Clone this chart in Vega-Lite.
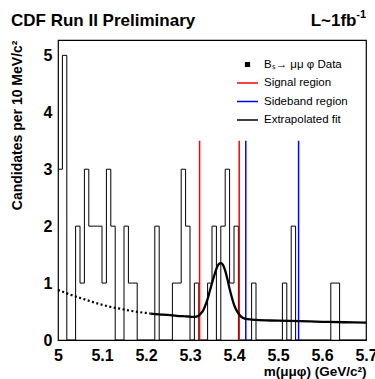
{
  "$schema": "https://vega.github.io/schema/vega-lite/v6.json",
  "width": 308,
  "height": 300,
  "autosize": {"type": "none"},
  "padding": {"left": 58, "top": 40, "right": 9, "bottom": 39},
  "background": "white",
  "config": {
    "view": {"stroke": "black", "strokeWidth": 1.2},
    "axis": {"grid": false, "domain": false, "labelFont": "Liberation Sans", "labelFontSize": 16, "labelFontWeight": "bold", "labelColor": "black", "titleFont": "Liberation Sans", "titleFontWeight": "bold", "titleColor": "black", "tickColor": "black", "tickSize": 0, "tickWidth": 1, "labelOverlap": false, "labelBound": false, "labelFlush": false}
  },
  "datasets": {
    "hist": [
      {"m": 5.00, "n": 3}, {"m": 5.01, "n": 5}, {"m": 5.02, "n": 0}, {"m": 5.03, "n": 0}, {"m": 5.04, "n": 2},
      {"m": 5.05, "n": 1}, {"m": 5.06, "n": 3}, {"m": 5.07, "n": 2}, {"m": 5.08, "n": 2}, {"m": 5.09, "n": 2},
      {"m": 5.10, "n": 1}, {"m": 5.11, "n": 3}, {"m": 5.12, "n": 2}, {"m": 5.13, "n": 0}, {"m": 5.14, "n": 0},
      {"m": 5.15, "n": 2}, {"m": 5.16, "n": 1}, {"m": 5.17, "n": 1}, {"m": 5.18, "n": 0}, {"m": 5.19, "n": 0},
      {"m": 5.20, "n": 0}, {"m": 5.21, "n": 0}, {"m": 5.22, "n": 2}, {"m": 5.23, "n": 0}, {"m": 5.24, "n": 0},
      {"m": 5.25, "n": 0}, {"m": 5.26, "n": 1}, {"m": 5.27, "n": 1}, {"m": 5.28, "n": 3}, {"m": 5.29, "n": 2},
      {"m": 5.30, "n": 0}, {"m": 5.31, "n": 1}, {"m": 5.32, "n": 0}, {"m": 5.33, "n": 0}, {"m": 5.34, "n": 1},
      {"m": 5.35, "n": 2}, {"m": 5.36, "n": 0}, {"m": 5.37, "n": 2}, {"m": 5.38, "n": 3}, {"m": 5.39, "n": 1},
      {"m": 5.40, "n": 2}, {"m": 5.41, "n": 0}, {"m": 5.42, "n": 0}, {"m": 5.43, "n": 0}, {"m": 5.44, "n": 1},
      {"m": 5.45, "n": 0}, {"m": 5.46, "n": 0}, {"m": 5.47, "n": 0}, {"m": 5.48, "n": 0}, {"m": 5.49, "n": 0},
      {"m": 5.50, "n": 0}, {"m": 5.51, "n": 1}, {"m": 5.52, "n": 0}, {"m": 5.53, "n": 2}, {"m": 5.54, "n": 0},
      {"m": 5.55, "n": 0}, {"m": 5.56, "n": 0}, {"m": 5.57, "n": 0}, {"m": 5.58, "n": 0}, {"m": 5.59, "n": 0},
      {"m": 5.60, "n": 0}, {"m": 5.61, "n": 0}, {"m": 5.62, "n": 1}, {"m": 5.63, "n": 1}, {"m": 5.64, "n": 0},
      {"m": 5.65, "n": 0}, {"m": 5.66, "n": 0}, {"m": 5.67, "n": 0}, {"m": 5.68, "n": 0}, {"m": 5.69, "n": 0},
      {"m": 5.70, "n": 0}
    ],
    "regions": [
      {"m": 5.3218, "region": "Signal region"},
      {"m": 5.4118, "region": "Signal region"},
      {"m": 5.4268, "region": "Sideband region"},
      {"m": 5.5468, "region": "Sideband region"}
    ],
    "fitExtrap": [
      {"m": 5.00, "n": 0.88},
      {"m": 5.02, "n": 0.82},
      {"m": 5.04, "n": 0.765},
      {"m": 5.06, "n": 0.715},
      {"m": 5.08, "n": 0.665},
      {"m": 5.10, "n": 0.62},
      {"m": 5.12, "n": 0.58},
      {"m": 5.14, "n": 0.55},
      {"m": 5.16, "n": 0.52},
      {"m": 5.18, "n": 0.495},
      {"m": 5.20, "n": 0.475},
      {"m": 5.21, "n": 0.465}
    ],
    "fit": [
      {"m": 5.21, "n": 0.465},
      {"m": 5.23, "n": 0.45},
      {"m": 5.25, "n": 0.44},
      {"m": 5.27, "n": 0.425},
      {"m": 5.29, "n": 0.415},
      {"m": 5.30, "n": 0.41},
      {"m": 5.31, "n": 0.405},
      {"m": 5.32, "n": 0.43},
      {"m": 5.325, "n": 0.47},
      {"m": 5.33, "n": 0.52},
      {"m": 5.335, "n": 0.61},
      {"m": 5.34, "n": 0.72},
      {"m": 5.345, "n": 0.86},
      {"m": 5.35, "n": 1.0},
      {"m": 5.355, "n": 1.13},
      {"m": 5.36, "n": 1.25},
      {"m": 5.365, "n": 1.33},
      {"m": 5.37, "n": 1.35},
      {"m": 5.375, "n": 1.32},
      {"m": 5.38, "n": 1.22},
      {"m": 5.385, "n": 1.07},
      {"m": 5.39, "n": 0.9},
      {"m": 5.395, "n": 0.75},
      {"m": 5.40, "n": 0.62},
      {"m": 5.405, "n": 0.53},
      {"m": 5.41, "n": 0.47},
      {"m": 5.415, "n": 0.42},
      {"m": 5.42, "n": 0.39},
      {"m": 5.43, "n": 0.365},
      {"m": 5.45, "n": 0.352},
      {"m": 5.50, "n": 0.34},
      {"m": 5.55, "n": 0.33},
      {"m": 5.60, "n": 0.32},
      {"m": 5.65, "n": 0.312},
      {"m": 5.70, "n": 0.305}
    ],
    "heading": [{"t": "CDF Run II Preliminary"}],
    "lumi": [{"t": "L~1fb"}],
    "lumiExp": [{"t": "-1"}]
  },
  "layer": [
    {
      "data": {"name": "hist"},
      "mark": {"type": "line", "interpolate": "step-after", "strokeWidth": 1, "clip": true},
      "encoding": {
        "x": {
          "field": "m", "type": "quantitative",
          "scale": {"domain": [5, 5.7], "nice": false, "zero": false},
          "axis": {
            "title": "m(μμφ) (GeV/c²)", "titleFontSize": 13.5, "titleAnchor": "end", "titleAlign": "right", "titleBaseline": "alphabetic", "titleY": 35,
            "values": [5, 5.05, 5.1, 5.15, 5.2, 5.25, 5.3, 5.35, 5.4, 5.45, 5.5, 5.55, 5.6, 5.65, 5.7],
            "labelExpr": "abs(datum.value*10 - round(datum.value*10)) < 0.001 ? (datum.value == 5 ? '5' : format(datum.value, '.1f')) : ''",
            "labelPadding": 7,
            "encode": {
              "ticks": {"update": {"y2": {"signal": "abs(datum.value*10 - round(datum.value*10)) < 0.001 ? -8 : -4"}}},
              "labels": {"update": {"dx": {"signal": "datum.value > 5.65 ? -7 : 0"}}}
            }
          }
        },
        "y": {
          "field": "n", "type": "quantitative",
          "scale": {"domain": [0, 5.27], "nice": false},
          "axis": {
            "title": "Candidates per 10 MeV/c²", "titleFontSize": 14, "titleAnchor": "end", "titleAlign": "right", "titleAngle": 270, "titleBaseline": "alphabetic", "titleX": -37, "titleY": 0,
            "values": [0, 0.5, 1, 1.5, 2, 2.5, 3, 3.5, 4, 4.5, 5],
            "labelExpr": "datum.value % 1 == 0 ? format(datum.value, 'd') : ''",
            "labelPadding": 6,
            "encode": {
              "ticks": {"update": {"x2": {"signal": "datum.value % 1 == 0 ? 8 : 4"}}}
            }
          }
        },
        "color": {
          "datum": "Bₛ→ μμ φ Data", "type": "nominal",
          "scale": {"domain": ["Bₛ→ μμ φ Data", "Signal region", "Sideband region", "Extrapolated fit"], "range": ["black", "#ff0000", "#0000ff", "black"]},
          "legend": {
            "orient": "none", "legendX": 178, "legendY": 13, "title": null,
            "symbolType": "stroke", "symbolSize": 441, "symbolStrokeWidth": 1.5,
            "labelFont": "Liberation Sans", "labelFontSize": 11.5, "labelColor": "black", "labelOffset": 5, "labelLimit": 300,
            "rowPadding": 1.5, "padding": 0,
            "encode": {
              "symbols": {"update": {
                "shape": {"signal": "datum.index === 0 ? 'square' : 'stroke'"},
                "size": {"signal": "datum.index === 0 ? 14 : 441"},
                "fill": {"signal": "datum.index === 0 ? 'black' : 'transparent'"}
              }}
            }
          }
        }
      }
    },
    {
      "data": {"name": "regions"},
      "mark": {"type": "rule", "strokeWidth": 1.5},
      "encoding": {
        "x": {"field": "m", "type": "quantitative"},
        "y": {"datum": 0},
        "y2": {"datum": 3.5},
        "color": {"field": "region", "type": "nominal", "legend": {"title": null}}
      }
    },
    {
      "data": {"name": "fitExtrap"},
      "mark": {"type": "line", "strokeWidth": 2.2, "strokeDash": [2, 2.5], "interpolate": "monotone"},
      "encoding": {
        "x": {"field": "m", "type": "quantitative"},
        "y": {"field": "n", "type": "quantitative"},
        "color": {"datum": "Extrapolated fit", "type": "nominal"}
      }
    },
    {
      "data": {"name": "fit"},
      "mark": {"type": "line", "strokeWidth": 2.3, "interpolate": "monotone"},
      "encoding": {
        "x": {"field": "m", "type": "quantitative"},
        "y": {"field": "n", "type": "quantitative"},
        "color": {"datum": "Extrapolated fit", "type": "nominal"}
      }
    },
    {
      "data": {"name": "heading"},
      "mark": {"type": "text", "align": "left", "baseline": "alphabetic", "dx": -47, "dy": -14.3, "font": "Liberation Sans", "fontSize": 17, "fontWeight": "bold", "color": "black"},
      "encoding": {"x": {"datum": 5.0, "type": "quantitative"}, "y": {"datum": 5.27, "type": "quantitative"}, "text": {"field": "t"}}
    },
    {
      "data": {"name": "lumi"},
      "mark": {"type": "text", "align": "right", "baseline": "alphabetic", "dx": -9.5, "dy": -14.3, "font": "Liberation Sans", "fontSize": 17, "fontWeight": "bold", "color": "black"},
      "encoding": {"x": {"datum": 5.7, "type": "quantitative"}, "y": {"datum": 5.27, "type": "quantitative"}, "text": {"field": "t"}}
    },
    {
      "data": {"name": "lumiExp"},
      "mark": {"type": "text", "align": "right", "baseline": "alphabetic", "dx": 0, "dy": -22, "font": "Liberation Sans", "fontSize": 11, "fontWeight": "bold", "color": "black"},
      "encoding": {"x": {"datum": 5.7, "type": "quantitative"}, "y": {"datum": 5.27, "type": "quantitative"}, "text": {"field": "t"}}
    }
  ]
}
